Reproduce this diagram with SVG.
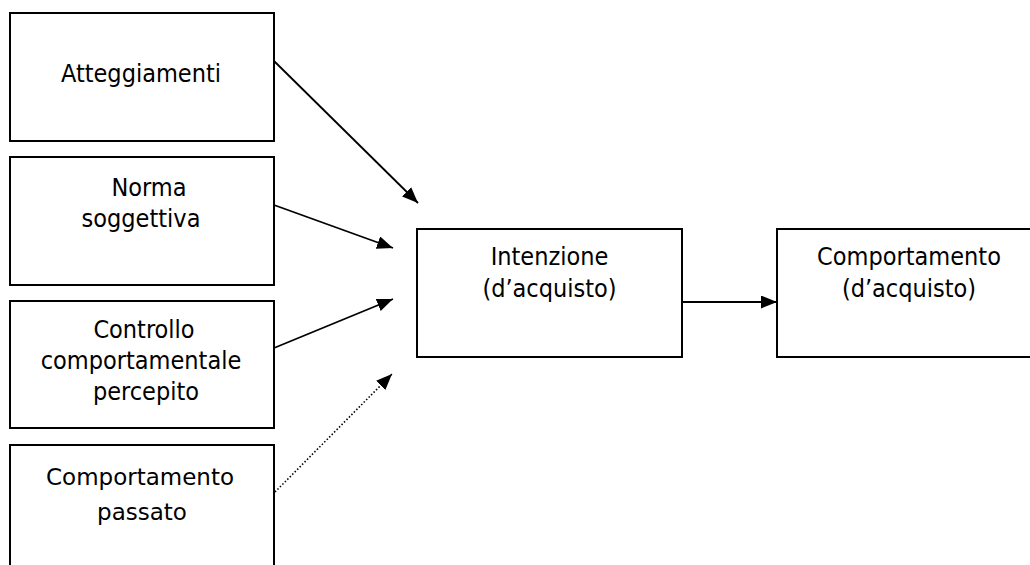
<svg xmlns="http://www.w3.org/2000/svg" width="1030" height="565" viewBox="0 0 1030 565">
  <style>
    .box { fill: #ffffff; stroke: #000000; stroke-width: 2; }
    .lbl { font-family: "DejaVu Sans Condensed", "DejaVu Sans", "Liberation Sans", sans-serif; font-stretch: condensed; font-size: 25px; fill: #000000; text-anchor: middle; }
    .hand { font-family: "DejaVu Sans", "Liberation Sans", sans-serif; font-size: 23px; fill: #000000; text-anchor: middle; }
    .link { fill: none; stroke: #000000; stroke-width: 1.8; }
    .dotted { fill: none; stroke: #000000; stroke-width: 1.6; stroke-dasharray: 1.5 2; }
  </style>
  <defs>
    <marker id="arrow" markerUnits="userSpaceOnUse" markerWidth="18" markerHeight="14" refX="16" refY="6.5" orient="auto">
      <path d="M0,0 L16,6.5 L0,13 z" fill="#000000"/>
    </marker>
  </defs>
  <rect width="1030" height="565" fill="#ffffff"/>

  <g id="atteggiamenti">
    <rect class="box" x="10" y="13" width="264" height="128"/>
    <text class="lbl" x="141" y="82">Atteggiamenti</text>
  </g>

  <g id="norma-soggettiva">
    <rect class="box" x="10" y="157" width="264" height="128"/>
    <text class="lbl" x="149" y="196">Norma</text>
    <text class="lbl" x="141" y="227">soggettiva</text>
  </g>

  <g id="controllo">
    <rect class="box" x="10" y="301" width="264" height="127"/>
    <text class="lbl" x="144" y="338">Controllo</text>
    <text class="lbl" x="141" y="369">comportamentale</text>
    <text class="lbl" x="146" y="400">percepito</text>
  </g>

  <g id="comportamento-passato">
    <rect class="box" x="10" y="445" width="264" height="140"/>
    <text class="hand" x="140" y="485">Comportamento</text>
    <text class="hand" x="142" y="520">passato</text>
  </g>

  <g id="intenzione">
    <rect class="box" x="417" y="229" width="265" height="128"/>
    <text class="lbl" x="549.5" y="265">Intenzione</text>
    <text class="lbl" x="549.5" y="297">(d’acquisto)</text>
  </g>

  <g id="comportamento">
    <rect class="box" x="777" y="229" width="265" height="128"/>
    <text class="lbl" x="909" y="265">Comportamento</text>
    <text class="lbl" x="909" y="297">(d’acquisto)</text>
  </g>

  <g id="connectors">
    <line class="link" x1="274" y1="61" x2="418" y2="203" marker-end="url(#arrow)"/>
    <line class="link" x1="274" y1="205" x2="393" y2="248" marker-end="url(#arrow)"/>
    <line class="link" x1="274" y1="348" x2="393" y2="299" marker-end="url(#arrow)"/>
    <line class="dotted" x1="275" y1="492" x2="392" y2="374" marker-end="url(#arrow)"/>
    <line class="link" x1="682" y1="302" x2="777" y2="302" marker-end="url(#arrow)"/>
  </g>
</svg>
